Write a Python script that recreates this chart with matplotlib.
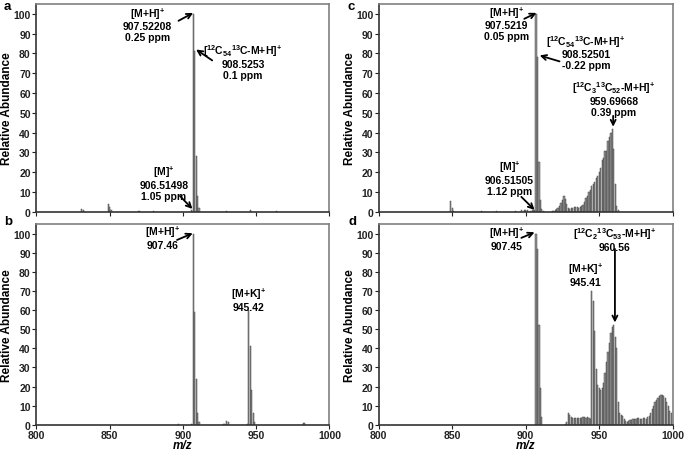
import numpy as np
import matplotlib
matplotlib.use('Agg')
import matplotlib.pyplot as plt

plt.rcParams['font.family'] = ['Liberation Sans', 'DejaVu Sans']
plt.rcParams['font.weight'] = 'bold'
plt.rcParams['mathtext.fontset'] = 'custom'
plt.rcParams['mathtext.rm'] = 'Liberation Sans:bold'
plt.rcParams['mathtext.bf'] = 'Liberation Sans:bold'
plt.rcParams['mathtext.it'] = 'Liberation Sans:italic:bold'
plt.rcParams['mathtext.sf'] = 'Liberation Sans:bold'

# Panel a - spectrum
a_mz = [831, 832, 849, 850, 851, 870, 880, 906, 907, 908, 909, 910, 911, 930, 946, 964]
a_ab = [1.7, 0.8, 3.8, 2.5, 1.0, 0.4, 0.6, 1.0, 100, 81, 28, 8, 2, 0.6, 0.8, 0.4]

# Panel b - spectrum
b_mz = [897, 906, 907, 908, 909, 910, 911, 928, 930, 931, 944, 945, 946, 947, 948, 949, 982, 983]
b_ab = [0.3, 0.5, 100, 59, 24, 6, 1.5, 0.3, 2.2, 1.5, 0.3, 60, 41, 18, 6, 1.5, 1.0, 0.7]

# Panel c - spectrum
c_mz = [849, 850, 851, 870, 880, 893, 897, 899, 900, 901, 903, 905, 906,
        907, 908, 909, 910, 911, 912,
        918, 919, 920, 921, 922, 923, 924, 925, 926, 927, 928, 929, 930,
        931, 932, 933, 934, 935, 936, 937, 938, 939, 940, 941, 942, 943,
        944, 945, 946, 947, 948, 949, 950, 951, 952, 953, 954, 955, 956,
        957, 958, 959, 960, 961, 962, 963]
c_ab = [5.3, 2.0, 0.5, 0.3, 0.5, 0.4, 0.8, 1.0, 1.2, 0.8, 0.5, 0.8, 1.2,
        100, 78, 25, 6, 1.5, 0.5,
        0.5, 0.5, 1.0, 1.5, 2.0, 3.0, 4.5, 6.0, 8.0, 6.5, 4.0, 2.0, 1.5,
        2.0, 2.0, 2.5, 2.5, 2.5, 2.0, 2.5, 3.0, 3.5, 5.0, 7.0, 8.0, 10,
        11, 13, 14, 15, 17, 18, 20, 22, 26, 27, 31, 31, 36,
        38, 40, 42, 32, 14, 3, 1]

# Panel d - spectrum
d_mz = [907, 908, 909, 910, 911,
        927, 928, 929, 930, 931, 932, 933, 934, 935, 936, 937, 938, 939, 940,
        941, 942, 943, 944, 945, 946, 947, 948, 949, 950, 951, 952, 953, 954,
        955, 956, 957, 958, 959, 960, 961, 962, 963, 964, 965, 966, 967, 968,
        969, 970, 971, 972, 973, 974, 975, 976, 977, 978, 979, 980, 981, 982,
        983, 984, 985, 986, 987, 988, 989, 990, 991, 992, 993, 994, 995, 996,
        997, 998, 999]
d_ab = [100, 92, 52, 19, 4,
        0.5, 1.5, 6, 5, 4, 3.5, 3.5, 3.5, 3.5, 3.5, 3.5, 3.5, 4, 4,
        3.5, 4, 3.5, 3, 70, 65, 49, 29, 21, 19, 18, 19, 22, 27,
        33, 38, 43, 48, 51, 52, 46, 40, 12, 6, 5, 4.5, 3, 2,
        1.5, 2, 2.5, 2.5, 3, 3, 3, 3.5, 3.5, 3, 3, 3.5, 3.5, 3,
        4, 4.5, 6, 8, 10, 12, 13, 14, 15, 15.5, 15.5, 15, 14, 12,
        10, 7, 6]

yticks = [0, 10, 20, 30, 40, 50, 60, 70, 80, 90, 100]
xticks = [800, 850, 900, 950, 1000]

fig = plt.figure(figsize=(6.85, 4.52), dpi=100)
ax_a = fig.add_axes([0.053, 0.529, 0.428, 0.460])
ax_b = fig.add_axes([0.053, 0.058, 0.428, 0.444])
ax_c = fig.add_axes([0.553, 0.529, 0.429, 0.460])
ax_d = fig.add_axes([0.553, 0.058, 0.429, 0.444])

for ax, mz, ab, bottom in [(ax_a, a_mz, a_ab, False), (ax_b, b_mz, b_ab, True),
                           (ax_c, c_mz, c_ab, False), (ax_d, d_mz, d_ab, True)]:
    ax.bar(mz, ab, width=0.8, color='#949494', edgecolor='#444444', linewidth=0.35)
    ax.set_xlim(800, 1000)
    ax.set_ylim(0, 105)
    ax.set_yticks(yticks)
    ax.set_xticks(xticks)
    ax.tick_params(direction='out', length=3, width=0.8, labelsize=7.5, pad=1, colors='#222222')
    for s in ax.spines.values():
        s.set_color('#808080')
        s.set_linewidth(1.2)
    ax.spines['bottom'].set_color('#333333')
    ax.spines['left'].set_color('#333333')
    ax.set_ylabel('Relative Abundance', fontsize=8.5, fontweight='bold')
    ax.yaxis.set_label_coords(-0.078, 0.5)
    if bottom:
        ax.set_xlabel('m/z', fontsize=8.5, fontweight='bold', fontstyle='italic', labelpad=-1)
    else:
        ax.set_xticklabels([])
    for lab in ax.get_xticklabels() + ax.get_yticklabels():
        lab.set_fontweight('bold')

fig.text(0.006, 0.985, 'a', fontsize=9.5, fontweight='bold', va='center')
fig.text(0.006, 0.509, 'b', fontsize=9.5, fontweight='bold', va='center')
fig.text(0.507, 0.985, 'c', fontsize=9.5, fontweight='bold', va='center')
fig.text(0.509, 0.509, 'd', fontsize=9.5, fontweight='bold', va='center')

fs = 7.5
arr = dict(arrowstyle='->', color='black', lw=1.3, shrinkA=0, shrinkB=0, mutation_scale=9)

def label(ax, x, y, txt):
    ax.text(x, y, txt, fontsize=fs, fontweight='bold', ha='center', va='center', linespacing=1.1)

def arrow(ax, x0, y0, x1, y1):
    ax.annotate('', xy=(x1, y1), xytext=(x0, y0), arrowprops=arr)

# a
label(ax_a, 876, 95, '[M+H]$^{+}$\n907.52208\n0.25 ppm')
arrow(ax_a, 897, 96.5, 907, 100.5)
label(ax_a, 941, 76, '[$^{12}$C$_{54}$$^{13}$C-M+H]$^{+}$\n908.5253\n0.1 ppm')
arrow(ax_a, 920, 76.5, 909, 82)
label(ax_a, 887, 15, '[M]$^{+}$\n906.51498\n1.05 ppm')
arrow(ax_a, 898, 8, 906.5, 1.5)

# b
label(ax_b, 886, 98.5, '[M+H]$^{+}$\n907.46')
arrow(ax_b, 896, 96.7, 906.7, 100.2)
label(ax_b, 945, 66, '[M+K]$^{+}$\n945.42')

# c
label(ax_c, 887, 95.5, '[M+H]$^{+}$\n907.5219\n0.05 ppm')
arrow(ax_c, 899, 97.5, 907.3, 100.5)
label(ax_c, 941, 81, '[$^{12}$C$_{54}$$^{13}$C-M+H]$^{+}$\n908.52501\n-0.22 ppm')
arrow(ax_c, 923, 76, 909.5, 79)
label(ax_c, 960, 57.5, '[$^{12}$C$_{3}$$^{13}$C$_{52}$-M+H]$^{+}$\n959.69668\n0.39 ppm')
arrow(ax_c, 959.5, 48.5, 959.5, 43)
label(ax_c, 889, 17.5, '[M]$^{+}$\n906.51505\n1.12 ppm')
arrow(ax_c, 897, 7.6, 906, 1)

# d
label(ax_d, 887, 98, '[M+H]$^{+}$\n907.45')
arrow(ax_d, 897, 97.8, 906, 100.7)
label(ax_d, 960.5, 97.5, '[$^{12}$C$_{2}$$^{13}$C$_{53}$-M+H]$^{+}$\n960.56')
arrow(ax_d, 960.7, 92, 960.7, 53.5)
label(ax_d, 941, 79, '[M+K]$^{+}$\n945.41')

fig.savefig('out.png', dpi=100)
